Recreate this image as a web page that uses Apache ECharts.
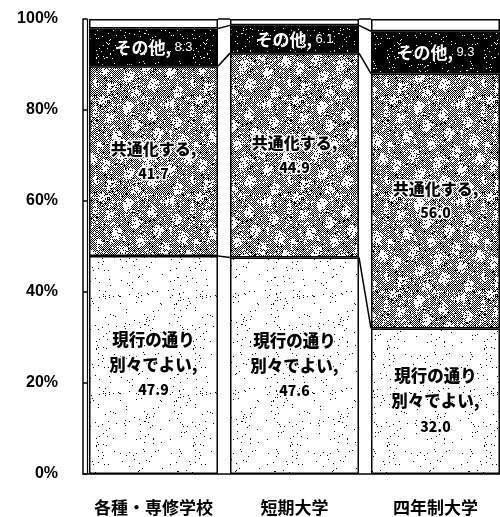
<!DOCTYPE html>
<html>
<head>
<meta charset="utf-8">
<script src="https://cdn.jsdelivr.net/npm/echarts@6/dist/echarts.min.js"></script>
<style>
  html, body { margin: 0; padding: 0; background: #fff; overflow: hidden; }
  #chart { width: 506px; height: 517px; }
</style>
</head>
<body>
<div id="chart"></div>
<script>
// Survey categories and answer shares (%)
const categories = ['各種・専修学校', '短期大学', '四年制大学'];
const genkou   = [47.9, 47.6, 32.0];   // 現行の通り別々でよい
const kyoutsuu = [41.7, 44.9, 56.0];   // 共通化する
const sonota   = [8.3, 6.1, 9.3];      // その他
const mukaitou = [2.1, 1.4, 2.7];      // 無回答 (blank cap)
const yMax = 100, yStep = 20;

const stacks = [genkou, kyoutsuu, sonota, mukaitou];
// cumulative tops of each stacked segment, used for the connector lines
const cumulative = stacks.map((_, k) =>
  categories.map((_, i) => stacks.slice(0, k + 1).reduce((s, arr) => s + arr[i], 0)));

const BAR_RATIO = 0.915;
const font = '"Noto Sans CJK JP", "Liberation Sans", sans-serif';

// Grainy print-style fill textures
function hash(x, y, s) {
  let h = (x * 374761393 + y * 668265263 + s * 2246822519) | 0;
  h = Math.imul(h ^ (h >>> 13), 1274126177);
  h ^= h >>> 16;
  return (h >>> 0) / 4294967296;
}
function texture(kind) {
  const n = 97;
  const c = document.createElement('canvas');
  c.width = c.height = n;
  const ctx = c.getContext('2d');
  const img = ctx.createImageData(n, n);
  for (let y = 0; y < n; y++) {
    for (let x = 0; x < n; x++) {
      const r = hash(x, y, kind.length);
      // low-frequency variation gives the lighter blotches of the gray fill
      const blot = Math.sin(x * 0.23 + y * 0.09) * Math.cos(y * 0.19 - x * 0.06);
      let dark;
      if (kind === 'light') dark = r < 0.018;
      else if (kind === 'gray') {
        const p = blot > 0.4 ? 0.3 : 0.88;
        dark = ((x + y) & 1) === 0 ? r < p : r < 0.04;
      }
      else dark = r > 0.03;
      const v = dark ? 0 : 255;
      const q = (y * n + x) * 4;
      img.data[q] = img.data[q + 1] = img.data[q + 2] = v;
      img.data[q + 3] = 255;
    }
  }
  ctx.putImageData(img, 0, 0);
  return { image: c, repeat: 'repeat' };
}

const chart = echarts.init(document.getElementById('chart'), null, { renderer: 'canvas' });

const baseBar = {
  type: 'bar',
  stack: 'total',
  barWidth: (BAR_RATIO * 100) + '%',
  itemStyle: { borderColor: '#000', borderWidth: 1.5 },
  emphasis: { disabled: true }
};

const darkText = (size) => ({
  fontSize: size, fontWeight: 900, fontFamily: font, color: '#000',
  textBorderColor: '#fff', textBorderWidth: 3
});

chart.setOption({
  animation: false,
  grid: { left: 83, right: 0, top: 19, bottom: 43 },
  xAxis: {
    type: 'category',
    data: categories,
    axisLine: { lineStyle: { color: '#000', width: 1.5 } },
    axisTick: { show: false },
    axisLabel: { interval: 0, color: '#000', fontSize: 17, fontWeight: 'bold', fontFamily: font, margin: 25 }
  },
  yAxis: [{
    type: 'value',
    min: 0, max: yMax, interval: yStep,
    axisLine: { show: true, lineStyle: { color: '#000', width: 1.5 } },
    axisTick: { show: true, inside: true, length: 4, lineStyle: { color: '#000', width: 1.5 } },
    splitLine: { show: false },
    axisLabel: {
      formatter: '{value}%', color: '#000', fontSize: 16, fontWeight: 'bold',
      fontFamily: '"Liberation Sans", Arial, sans-serif', margin: 25
    }
  }, {
    type: 'value',
    min: 0, max: yMax, interval: yStep,
    position: 'left', offset: -4,
    axisLine: { show: true, lineStyle: { color: '#000', width: 1.2 } },
    axisTick: { show: false }, axisLabel: { show: false }, splitLine: { show: false }
  }],
  series: [
    Object.assign({}, baseBar, {
      name: '現行の通り別々でよい',
      data: genkou,
      itemStyle: Object.assign({}, baseBar.itemStyle, { color: texture('light') }),
      label: {
        show: true, position: 'inside',
        formatter: p => '{t|現行の通り}\n{t|別々でよい,}\n{n|' + p.value.toFixed(1) + '}',
        rich: {
          t: Object.assign(darkText(16.5), { lineHeight: 25 }),
          n: Object.assign(darkText(14), { lineHeight: 25 })
        }
      }
    }),
    Object.assign({}, baseBar, {
      name: '共通化する',
      data: kyoutsuu,
      itemStyle: Object.assign({}, baseBar.itemStyle, { color: texture('gray') }),
      label: {
        show: true, position: 'inside',
        formatter: p => '{t|共通化する,}\n{n|' + p.value.toFixed(1) + '}',
        rich: {
          t: Object.assign(darkText(16), { lineHeight: 24 }),
          n: Object.assign(darkText(14), { lineHeight: 24 })
        }
      }
    }),
    Object.assign({}, baseBar, {
      name: 'その他',
      data: sonota,
      itemStyle: Object.assign({}, baseBar.itemStyle, { color: texture('black') }),
      label: {
        show: true, position: 'inside',
        formatter: p => '{t|その他,} {n|' + p.value.toFixed(1) + '}',
        rich: {
          t: { fontSize: 17, fontWeight: 'bold', fontFamily: font, color: '#fff' },
          n: { fontSize: 13, fontFamily: '"Liberation Sans", Arial, sans-serif', color: '#fff' }
        }
      }
    }),
    Object.assign({}, baseBar, {
      name: '無回答',
      data: mukaitou,
      itemStyle: Object.assign({}, baseBar.itemStyle, { color: '#fff' })
    }),
    {
      // connector lines between neighbouring bars at every segment boundary
      type: 'custom',
      data: categories.slice(0, -1).map((_, i) => [i, 0]),
      encode: { x: 0, y: 1 },
      z: 3,
      silent: true,
      renderItem: (params, api) => {
        const i = api.value(0);
        const half = api.size([1, 0])[0] * BAR_RATIO / 2;
        const children = cumulative.map(level => {
          const a = api.coord([i, level[i]]);
          const b = api.coord([i + 1, level[i + 1]]);
          return {
            type: 'line',
            shape: { x1: a[0] + half, y1: a[1], x2: b[0] - half, y2: b[1] },
            style: { stroke: '#000', lineWidth: 1.5 }
          };
        });
        return { type: 'group', children };
      }
    }
  ]
});
</script>
</body>
</html>
